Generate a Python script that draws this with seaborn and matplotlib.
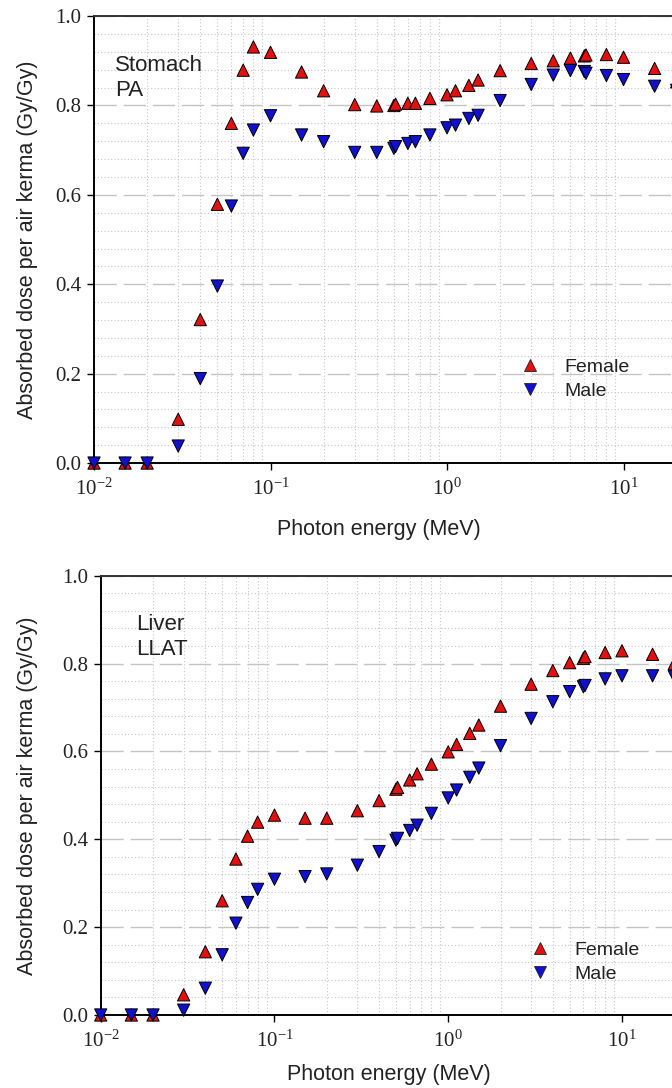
import numpy as np
import pandas as pd
import seaborn as sns
import matplotlib
matplotlib.use("Agg")
import matplotlib.pyplot as plt
from matplotlib.ticker import (FixedLocator, LogLocator, MultipleLocator,
                               LogFormatterSciNotation, FormatStrFormatter)
from matplotlib.lines import Line2D

# Photon energies (MeV)
energy = [0.01, 0.015, 0.02, 0.03, 0.04, 0.05, 0.06, 0.07, 0.08, 0.1, 0.15, 0.2,
          0.3, 0.4, 0.5, 0.511, 0.6, 0.662, 0.8, 1.0, 1.117, 1.33, 1.5, 2, 3, 4,
          5, 6, 6.129, 8, 10, 15, 20]

# Absorbed dose per air kerma (Gy/Gy), stomach, PA irradiation
stomach_female = [0, 0, 0, 0.098, 0.321, 0.579, 0.760, 0.879, 0.931, 0.919, 0.875, 0.833,
                  0.802, 0.799, 0.800, 0.803, 0.805, 0.805, 0.816, 0.824, 0.833, 0.845, 0.857,
                  0.878, 0.894, 0.900, 0.906, 0.911, 0.913, 0.914, 0.908, 0.883, 0.853]
stomach_male = [0, 0, 0, 0.038, 0.189, 0.396, 0.575, 0.693, 0.745, 0.777, 0.734, 0.719,
                0.695, 0.695, 0.704, 0.708, 0.715, 0.719, 0.734, 0.750, 0.756, 0.771, 0.778,
                0.811, 0.847, 0.868, 0.878, 0.876, 0.872, 0.867, 0.858, 0.843, 0.834]

# Absorbed dose per air kerma (Gy/Gy), liver, LLAT irradiation
liver_female = [0, 0, 0, 0.046, 0.144, 0.260, 0.355, 0.407, 0.439, 0.455, 0.448, 0.448,
                0.465, 0.488, 0.514, 0.518, 0.535, 0.549, 0.571, 0.599, 0.616, 0.641, 0.660,
                0.703, 0.753, 0.784, 0.802, 0.812, 0.816, 0.825, 0.829, 0.821, 0.800]
liver_male = [0, 0, 0, 0.011, 0.061, 0.137, 0.209, 0.256, 0.286, 0.309, 0.315, 0.321,
              0.341, 0.372, 0.398, 0.402, 0.420, 0.432, 0.459, 0.494, 0.512, 0.541, 0.562,
              0.613, 0.675, 0.713, 0.736, 0.747, 0.750, 0.765, 0.772, 0.772, 0.770]

sexes = ["Female", "Male"]
organ_labels = ["Stomach\nPA", "Liver\nLLAT"]
x_ticks = [0.01, 0.1, 1, 10]
x_label = "Photon energy (MeV)"
y_label = "Absorbed dose per air kerma (Gy/Gy)"

RED = "#e41010"
BLUE = "#1010d0"
palette = {"Female": RED, "Male": BLUE}
markers = {"Female": "^", "Male": "v"}

sns.set_style("white")
plt.rcParams["font.family"] = ["Liberation Sans", "DejaVu Sans"]
plt.rcParams["mathtext.fontset"] = "custom"
plt.rcParams["mathtext.rm"] = "Liberation Serif"
plt.rcParams["mathtext.it"] = "Liberation Serif:italic"


def long_frame(female, male):
    return pd.DataFrame({
        "energy": energy + energy,
        "dose": female + male,
        "sex": ["Female"] * len(energy) + ["Male"] * len(energy),
    })


fig = plt.figure(figsize=(6.72, 10.88), dpi=100)

panels = [
    dict(rect=[0.1399, 0.5744, 1.0506, 0.4108], female=stomach_female, male=stomach_male,
         label=organ_labels[0], text_xy=(0.030, 0.912), xlab_x=0.404, xlab_y=-0.125,
         leg_xy=(0.590, 0.234), ylab_x=-0.080),
    dict(rect=[0.1499, 0.0671, 1.0342, 0.4038], female=liver_female, male=liver_male,
         label=organ_labels[1], text_xy=(0.051, 0.912), xlab_x=0.415, xlab_y=-0.112,
         leg_xy=(0.604, 0.168), ylab_x=-0.090),
]

for p in panels:
    ax = fig.add_axes(p["rect"])
    df = long_frame(p["female"], p["male"])
    sns.scatterplot(data=df, x="energy", y="dose", hue="sex", style="sex",
                    markers=markers, palette=palette, s=78, edgecolor="black",
                    linewidth=0.7, legend=False, ax=ax, zorder=5)
    for coll in ax.collections:
        coll.set_clip_on(False)

    ax.set_xscale("log")
    ax.set_xlim(0.01, 100)
    ax.set_ylim(0, 1.0)

    ax.yaxis.set_major_locator(MultipleLocator(0.2))
    ax.yaxis.set_minor_locator(MultipleLocator(0.04))
    ax.xaxis.set_major_locator(FixedLocator(x_ticks))
    ax.xaxis.set_minor_locator(LogLocator(base=10, subs=np.arange(2, 10), numticks=20))
    ax.xaxis.set_major_formatter(LogFormatterSciNotation())
    ax.yaxis.set_major_formatter(FormatStrFormatter("%.1f"))

    # grid: dashed major horizontal, dotted minor in both directions
    ax.grid(False)
    ax.grid(axis="y", which="major", color="#c4c4c4", linestyle=(0, (16, 5)), linewidth=1.0)
    ax.grid(axis="y", which="minor", color="#c6c6c6", linestyle=(0, (1, 2)), linewidth=0.8)
    ax.grid(axis="x", which="minor", color="#c6c6c6", linestyle=(0, (1, 2)), linewidth=0.8)
    ax.set_axisbelow(True)

    ax.tick_params(which="minor", length=0)
    ax.tick_params(axis="both", which="major", direction="out", length=5, width=1.0,
                   color="black", labelsize=15, labelfontfamily="Liberation Serif",
                   labelcolor="#222222")
    ax.tick_params(axis="x", which="major", pad=6)
    ax.tick_params(axis="y", which="major", pad=4)
    ax.tick_params(left=True, bottom=True)

    for side in ["left", "bottom"]:
        ax.spines[side].set_color("black")
        ax.spines[side].set_linewidth(1.4)
    ax.spines["top"].set_color("#333333")
    ax.spines["top"].set_linewidth(1.4)
    ax.spines["right"].set_visible(False)

    ax.set_xlabel(x_label, fontsize=15.5, color="#222222")
    ax.set_ylabel(y_label, fontsize=15.5, color="#222222")
    ax.xaxis.set_label_coords(p["xlab_x"], p["xlab_y"])
    ax.yaxis.set_label_coords(p["ylab_x"], 0.5)

    ax.text(p["text_xy"][0], p["text_xy"][1], p["label"], transform=ax.transAxes,
            ha="left", va="top", fontsize=16, color="#222222", linespacing=1.2)

    handles = [Line2D([], [], linestyle="", marker=markers[s], markersize=8,
                      markerfacecolor=palette[s], markeredgecolor="#222222",
                      markeredgewidth=0.6) for s in sexes]
    ax.legend(handles, sexes, loc="upper left", bbox_to_anchor=p["leg_xy"],
              bbox_transform=ax.transAxes, frameon=False, fontsize=14,
              borderpad=0, borderaxespad=0, handlelength=2.0, handletextpad=0.75,
              labelspacing=0.33, labelcolor="#222222")

fig.savefig("out.png", dpi=100, facecolor="white")
